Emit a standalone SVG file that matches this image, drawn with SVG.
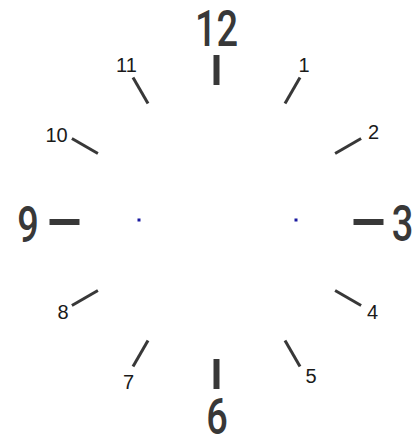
<svg xmlns="http://www.w3.org/2000/svg" width="419" height="445" viewBox="0 0 419 445">
<style>
.maj{stroke:#383838;stroke-width:6;stroke-linecap:butt}
.min{stroke:#383838;stroke-width:3;stroke-linecap:butt}
.big{font-family:Roboto,"Liberation Sans",sans-serif;font-weight:500;font-size:50px;fill:#383838;text-anchor:middle}
.sm{font-family:"Liberation Sans",Arial,sans-serif;font-size:20px;fill:#1a1a1a;text-anchor:middle}
.dot{fill:#1a1aa0}
</style>
<rect width="419" height="445" fill="#ffffff"/>
<g id="ticks">
<line class="maj" x1="216.5" y1="55" x2="216.5" y2="85"/>
<line class="maj" x1="353.5" y1="222" x2="383.5" y2="222"/>
<line class="maj" x1="216.5" y1="359" x2="216.5" y2="389"/>
<line class="maj" x1="49.5" y1="222" x2="79.5" y2="222"/>
<line class="min" x1="285" y1="103.4" x2="300" y2="77.4"/>
<line class="min" x1="335.1" y1="153.5" x2="361.1" y2="138.5"/>
<line class="min" x1="335.1" y1="290.5" x2="361.1" y2="305.5"/>
<line class="min" x1="285" y1="340.6" x2="300" y2="366.6"/>
<line class="min" x1="148" y1="340.6" x2="133" y2="366.6"/>
<line class="min" x1="97.9" y1="290.5" x2="71.9" y2="305.5"/>
<line class="min" x1="97.9" y1="153.5" x2="71.9" y2="138.5"/>
<line class="min" x1="148" y1="103.4" x2="133" y2="77.4"/>
</g>
<g id="numerals-major">
<text class="big" transform="translate(216.5,46) scale(0.76,1)">12</text>
<text class="big" transform="translate(402.5,241) scale(0.76,1)">3</text>
<text class="big" transform="translate(217,434) scale(0.76,1)">6</text>
<text class="big" transform="translate(28,242) scale(0.76,1)">9</text>
</g>
<g id="numerals-minor">
<text class="sm" x="304" y="72">1</text>
<text class="sm" x="373.5" y="138.5">2</text>
<text class="sm" x="372.5" y="318.5">4</text>
<text class="sm" x="311" y="382.5">5</text>
<text class="sm" x="128.5" y="389">7</text>
<text class="sm" x="63" y="318.5">8</text>
<text class="sm" x="56.5" y="141.5">10</text>
<text class="sm" x="126.5" y="71.5">11</text>
</g>
<g id="dots">
<rect class="dot" x="137.5" y="218.5" width="3" height="3"/>
<rect class="dot" x="294.5" y="218.5" width="3" height="3"/>
</g>
</svg>
